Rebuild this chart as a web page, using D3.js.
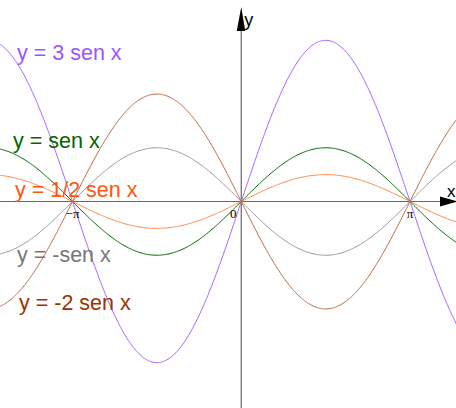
<!DOCTYPE html>
<html>
<head>
<meta charset="utf-8">
<script src="https://cdn.jsdelivr.net/npm/d3@7"></script>
<style>
  body { margin: 0; background: #fff; }
  svg { display: block; }
</style>
</head>
<body>
<div id="chart"></div>
<script>
// amplitudes of y = a sen x
var amps = [3, 1, 0.5, -1, -2]
var labels = ["y = 3 sen x", "y = sen x", "y = 1/2 sen x", "y = -sen x", "y = -2 sen x"]
var lineColors = ["#aa66ff", "#006600", "#ff8844", "#999999", "#b8704a"]
var labelColors = ["#9955ff", "#006600", "#ff5511", "#777777", "#993300"]
var labelPos = [[17, 60], [13, 148], [15, 197], [17, 262], [19, 310]]
var tickVals = [-Math.PI, 0, Math.PI]
var tickText = ["\u2212\u03c0", "0", "\u03c0"]

var width = 456, height = 408

var svg = d3.select("#chart")
    .append("svg")
        .attr("width", width)
        .attr("height", height)

// same unit for both axes, origin at (241, 201.5)
var x = d3.scaleLinear()
    .domain([-Math.PI, Math.PI])
    .range([72.5, 410])
var unit = (x(1) - x(0))
var y = d3.scaleLinear()
    .domain([-1, 1])
    .range([201.5 + unit, 201.5 - unit])

var xs = d3.range(x.invert(-5), x.invert(width + 5), 0.02)

// axes
svg.append("line")
    .attr("x1", 0).attr("x2", width - 10)
    .attr("y1", y(0)).attr("y2", y(0))
    .attr("stroke", "#666").attr("stroke-width", 1.2)
svg.append("line")
    .attr("x1", x(0)).attr("x2", x(0))
    .attr("y1", 20).attr("y2", height)
    .attr("stroke", "#666").attr("stroke-width", 1.2)

// curves
var line = d3.line()
    .x(function(d){ return x(d[0]) })
    .y(function(d){ return y(d[1]) })

amps.forEach(function(a, i){
    svg.append("path")
        .datum(xs.map(function(v){ return [v, a * Math.sin(v)] }))
        .attr("d", line)
        .attr("fill", "none")
        .attr("stroke", lineColors[i])
        .attr("stroke-width", 1)
})

// arrows
var ox = x(0), oy = y(0)
svg.append("path")
    .attr("d", "M" + ox + ",7 L" + (ox + 4) + ",31 L" + (ox - 4.5) + ",31 Z")
    .attr("fill", "#000")
svg.append("path")
    .attr("d", "M" + (width + 2) + "," + oy + " L" + (width - 16) + "," + (oy - 5) + " L" + (width - 16) + "," + (oy + 5) + " Z")
    .attr("fill", "#000")

svg.append("text")
    .attr("x", ox + 3).attr("y", 26)
    .attr("font-family", "Liberation Sans, Arial, sans-serif")
    .attr("font-size", 18)
    .text("y")
svg.append("text")
    .attr("x", width - 9).attr("y", oy - 5)
    .attr("font-family", "Liberation Sans, Arial, sans-serif")
    .attr("font-size", 17)
    .text("x")

// tick labels
tickVals.forEach(function(t, i){
    svg.append("text")
        .attr("x", t === 0 ? x(t) - 8 : x(t))
        .attr("y", oy + 16)
        .attr("text-anchor", "middle")
        .attr("font-family", "Liberation Serif, Times New Roman, serif")
        .attr("font-size", 13)
        .text(tickText[i])
})

// labels
labels.forEach(function(l, i){
    svg.append("text")
        .attr("x", labelPos[i][0])
        .attr("y", labelPos[i][1])
        .attr("font-family", "Liberation Sans, Arial, sans-serif")
        .attr("font-size", 21.5)
        .attr("fill", labelColors[i])
        .text(l)
})
</script>
</body>
</html>
